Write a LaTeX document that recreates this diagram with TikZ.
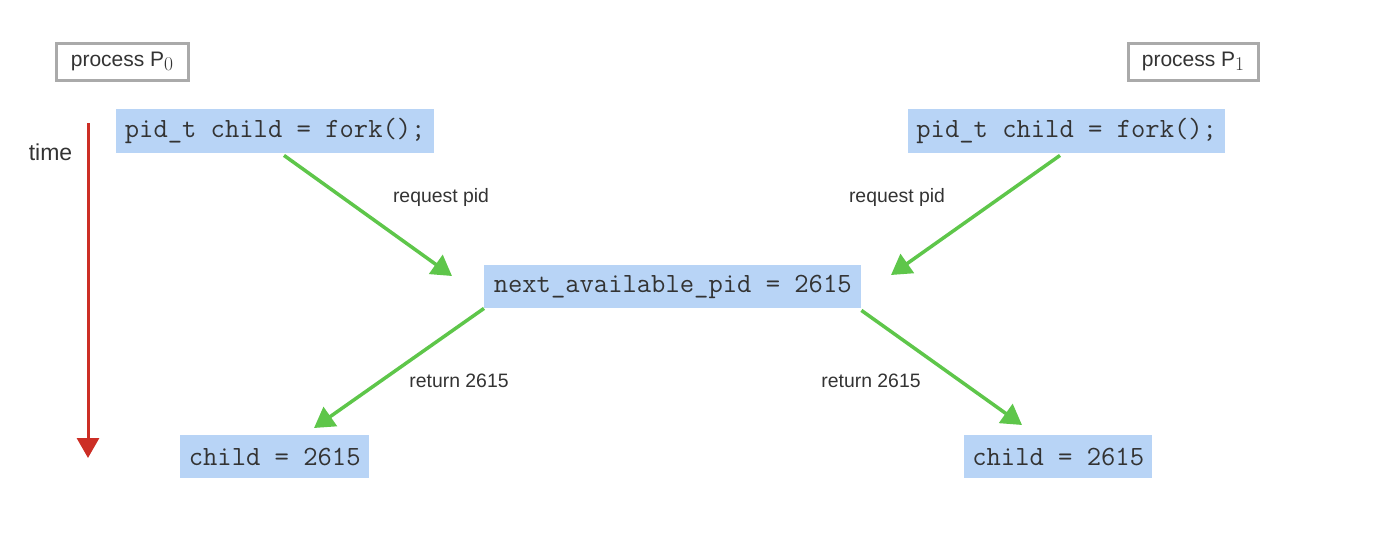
\documentclass[tikz,border=0pt]{standalone}
\usepackage{fontspec}
\setmainfont{Liberation Sans}
\newfontfamily\lmr{Latin Modern Roman}
\newfontfamily\lmmono{Latin Modern Mono}
\usetikzlibrary{arrows.meta,calc}
\definecolor{boxblue}{HTML}{B8D4F6}
\definecolor{grayline}{HTML}{AAAAAA}
\definecolor{arrgreen}{HTML}{5EC64A}
\definecolor{timered}{HTML}{CC2E25}
\definecolor{txt}{HTML}{333333}
\newcommand{\psub}[1]{\raisebox{-4pt}{\lmr\fontsize{19.5}{20}\selectfont #1}}
\begin{document}
\begin{tikzpicture}[x=1pt,y=-1pt,
  codebox/.style={fill=boxblue,inner sep=0pt,anchor=north west,text=txt,
    font=\lmmono\fontsize{27.8}{30}\selectfont,align=center},
  procbox/.style={draw=grayline,line width=3pt,inner sep=0pt,anchor=north west,
    text=txt,font=\fontsize{21}{25}\selectfont,align=center},
  lbl/.style={text=txt,font=\fontsize{19.4}{23}\selectfont,inner sep=0pt},
  garrow/.style={draw=arrgreen,line width=3.5pt,-{Triangle[length=20pt,width=23pt]}},
  rarrow/.style={draw=timered,line width=3pt,-{Triangle[length=20pt,width=22pt]}}]
\useasboundingbox (0,0) rectangle (1382,538);
% process labels
\node[procbox,minimum width=132pt,minimum height=37pt] (p0) at (54.5,41.5) {process P\psub{0}};
\node[procbox,minimum width=130pt,minimum height=37pt] (p1) at (1126.5,41.5) {process P\psub{1}};
% code boxes
\node[codebox,minimum width=318pt,minimum height=44pt] (forkL) at (116,109) {pid\_t child = fork();};
\node[codebox,minimum width=317pt,minimum height=44pt] (forkR) at (908,109) {pid\_t child = fork();};
\node[codebox,minimum width=377pt,minimum height=43pt] (next) at (484,265) {next\_available\_pid = 2615};
\node[codebox,minimum width=189pt,minimum height=43pt] (childL) at (180,435) {child = 2615};
\node[codebox,minimum width=188pt,minimum height=43pt] (childR) at (964,435) {child = 2615};
% arrow endpoints
\coordinate (a1s) at ($(forkL.south west)+(168,2)$);
\coordinate (a1e) at (452,276);
\coordinate (a2s) at ($(forkR.south west)+(152,2)$);
\coordinate (a2e) at (891,275);
\coordinate (a3s) at (next.south west);
\coordinate (a3e) at (314,428);
\coordinate (a4s) at ($(next.south east)+(0,2)$);
\coordinate (a4e) at (1022,425);
\draw[garrow] (a1s) -- (a1e);
\draw[garrow] (a2s) -- (a2e);
\draw[garrow] (a3s) -- (a3e);
\draw[garrow] (a4s) -- (a4e);
% labels
\node[lbl] (l1) at (441,197) {request pid};
\node[lbl] (l2) at (897,197) {request pid};
\node[lbl] (l3) at (459,381) {return 2615};
\node[lbl] (l4) at (871,381) {return 2615};
% time
\coordinate (ts) at (88,123);
\coordinate (te) at (88,458);
\draw[rarrow] (ts) -- (te);
\node[lbl,font=\fontsize{23}{27}\selectfont] (time) at (50.5,152) {time};
\end{tikzpicture}
\end{document}
